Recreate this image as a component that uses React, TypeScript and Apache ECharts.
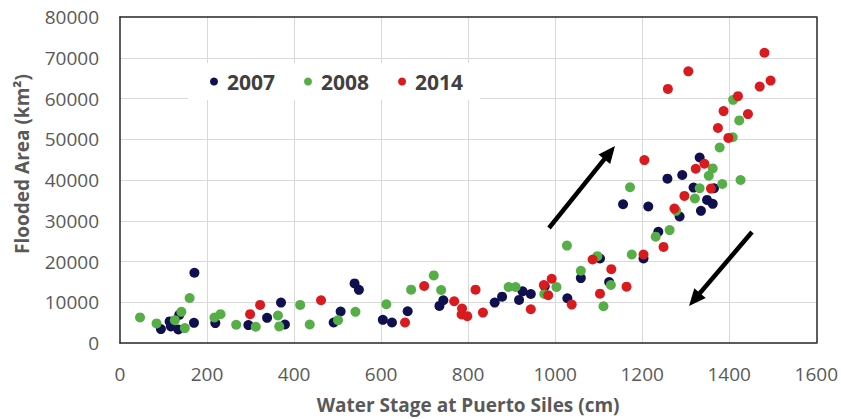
import React, { useEffect, useRef } from "react";
import * as echarts from "echarts";

const seriesNames = ["2007", "2008", "2014"];
const seriesColors = ["#10104e", "#56ae47", "#d91a1f"];

const data2007: [number, number][] = [
  [94, 3410], [114, 5290], [117, 4070], [134, 3340], [136, 6900], [170, 4950], [171, 17240],
  [219, 4880], [295, 4390], [338, 6180], [370, 9920], [379, 4550], [491, 5040], [507, 7720],
  [539, 14630], [549, 13050], [604, 5690], [625, 5040], [661, 7800], [734, 9110], [743, 10490],
  [861, 9920], [878, 11380], [917, 10570], [925, 12680], [944, 12030], [976, 13900], [1028, 10980],
  [1059, 15930], [1103, 20730], [1124, 14960], [1156, 34060], [1203, 20730], [1214, 33490],
  [1237, 27300], [1258, 40320], [1286, 31050], [1292, 41220], [1318, 38130], [1332, 45530],
  [1335, 32440], [1349, 35120], [1362, 34150], [1365, 37970],
];

const data2008: [number, number][] = [
  [46, 6270], [84, 4800], [126, 5610], [141, 7640], [149, 3660], [160, 11050], [217, 6260],
  [231, 7070], [267, 4470], [312, 3980], [363, 6750], [366, 4070], [414, 9350], [436, 4550],
  [501, 5610], [541, 7640], [612, 9510], [669, 13090], [721, 16590], [738, 13010], [893, 13740],
  [909, 13740], [975, 12030], [1003, 13740], [1027, 23900], [1059, 17720], [1097, 21300],
  [1111, 9020], [1128, 14230], [1172, 38210], [1176, 21710], [1231, 26100], [1263, 27700],
  [1278, 32440], [1321, 35450], [1332, 37970], [1353, 41050], [1362, 42850], [1378, 47970],
  [1384, 39020], [1408, 50490], [1409, 59680], [1423, 54630], [1426, 40000],
];

const data2014: [number, number][] = [
  [299, 7070], [322, 9350], [462, 10490], [655, 5040], [699, 13980], [768, 10240], [786, 8450],
  [785, 7000], [798, 6590], [817, 13090], [834, 7460], [944, 8290], [974, 14230], [984, 11710],
  [992, 15770], [1038, 9430], [1086, 20490], [1103, 12110], [1129, 18120], [1164, 13820],
  [1203, 21710], [1205, 44880], [1249, 23580], [1259, 62360], [1274, 33000], [1297, 36100],
  [1306, 66660], [1323, 42770], [1343, 43980], [1358, 37890], [1374, 52760], [1387, 56910],
  [1398, 50330], [1420, 60570], [1443, 56180], [1470, 62930], [1481, 71220], [1495, 64390],
];

const allData = [data2007, data2008, data2014];

const xTitle = "Water Stage at Puerto Siles (cm)";
const yTitle = "Flooded Area (km²)";

// annotation arrows: [tailX, tailY, tipX, tipY] in pixels
const arrows: [number, number, number, number][] = [
  [549, 228, 615, 146],
  [752, 232, 689, 306],
];

function arrowGraphics(a: [number, number, number, number]) {
  const [x1, y1, x2, y2] = a;
  const dx = x2 - x1;
  const dy = y2 - y1;
  const len = Math.sqrt(dx * dx + dy * dy);
  const ux = dx / len;
  const uy = dy / len;
  const headLen = 17;
  const halfW = 7.5;
  const bx = x2 - ux * headLen;
  const by = y2 - uy * headLen;
  const px = -uy;
  const py = ux;
  return [
    {
      type: "line",
      shape: { x1, y1, x2: bx + ux * 2, y2: by + uy * 2 },
      style: { stroke: "#000", lineWidth: 4.5 },
      z: 100,
    },
    {
      type: "polygon",
      shape: {
        points: [
          [x2, y2],
          [bx + px * halfW, by + py * halfW],
          [bx - px * halfW, by - py * halfW],
        ],
      },
      style: { fill: "#000" },
      z: 100,
    },
  ];
}

export default function App() {
  const ref = useRef<HTMLDivElement>(null);
  useEffect(() => {
    if (!ref.current) return;
    const chart = echarts.init(ref.current, null, { renderer: "svg" });
    const font = "'Open Sans', sans-serif";
    const frameLine = { show: true, onZero: false, lineStyle: { color: "#262626", width: 1.5 } };
    const gridLine = {
      show: true,
      showMinLine: false,
      showMaxLine: false,
      lineStyle: { color: "#d9d9d9", width: 1 },
    };
    const labelStyle = {
      color: "#595959",
      fontFamily: font,
      fontSize: 19,
      formatter: (v: number) => String(v),
    };
    chart.setOption({
      animation: false,
      backgroundColor: "#fff",
      grid: { left: 120, right: 21, top: 17, bottom: 75 },
      legend: {
        left: 188,
        top: 63,
        data: seriesNames,
        backgroundColor: "#fff",
        padding: [8, 17, 8, 22],
        itemWidth: 16,
        itemHeight: 8,
        itemGap: 29,
        icon: "circle",
        textStyle: {
          fontFamily: font,
          fontWeight: "bold",
          fontSize: 21,
          color: "#404040",
          lineHeight: 21,
        },
      },
      xAxis: [
        {
          type: "value",
          min: 0,
          max: 1600,
          interval: 200,
          axisLine: frameLine,
          axisTick: { show: false },
          axisLabel: { ...labelStyle, margin: 21 },
          splitLine: gridLine,
          name: xTitle,
          nameLocation: "middle",
          nameGap: 52,
          nameTextStyle: { color: "#595959", fontFamily: font, fontWeight: "bold", fontSize: 19 },
        },
        {
          type: "value",
          position: "top",
          min: 0,
          max: 1600,
          interval: 200,
          axisLine: frameLine,
          axisTick: { show: false },
          axisLabel: { show: false },
          splitLine: { show: false },
        },
      ],
      yAxis: [
        {
          type: "value",
          min: 0,
          max: 80000,
          interval: 10000,
          axisLine: frameLine,
          axisTick: { show: false },
          axisLabel: { ...labelStyle, margin: 21 },
          splitLine: gridLine,
        },
        {
          type: "value",
          position: "right",
          min: 0,
          max: 80000,
          interval: 10000,
          axisLine: frameLine,
          axisTick: { show: false },
          axisLabel: { show: false },
          splitLine: { show: false },
        },
      ],
      graphic: [
        {
          type: "text",
          x: 22,
          y: 164,
          rotation: Math.PI / 2,
          style: {
            text: yTitle,
            fill: "#595959",
            font: `bold 19px ${font}`,
            textAlign: "center",
            textVerticalAlign: "middle",
          },
        },
        ...arrows.flatMap(arrowGraphics),
      ],
      series: seriesNames.map((name, i) => ({
        name,
        type: "scatter",
        data: allData[i],
        symbol: "circle",
        symbolSize: 10,
        itemStyle: { color: seriesColors[i], opacity: 1 },
        z: 3 + i,
      })),
    });
    return () => chart.dispose();
  }, []);
  return (
    <div
      ref={ref}
      style={{ position: "absolute", left: 0, top: 0, width: 841, height: 419 }}
    />
  );
}
